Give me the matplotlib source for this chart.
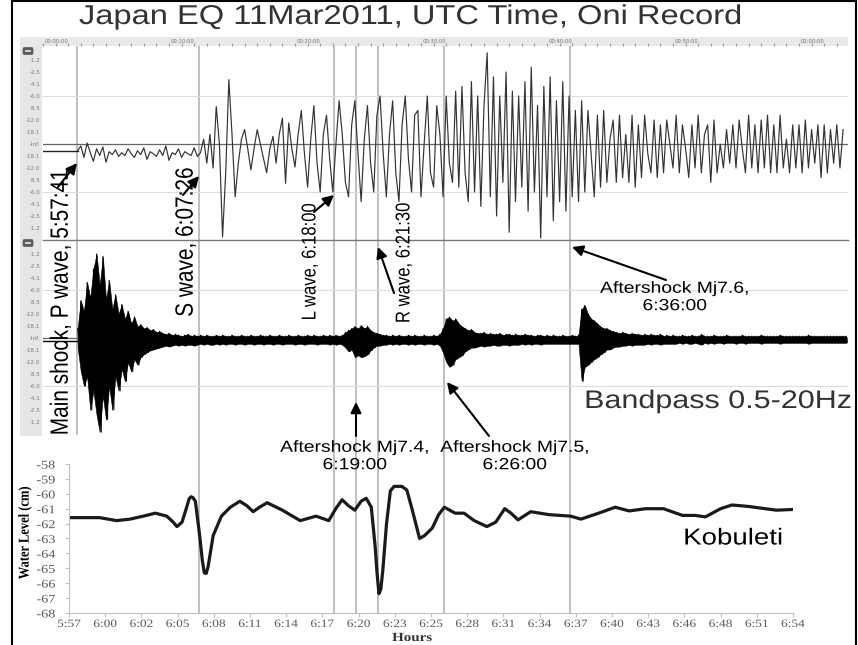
import numpy as np
import matplotlib.pyplot as plt
from matplotlib import patheffects
from matplotlib.patches import FancyBboxPatch, Rectangle
from matplotlib.transforms import Affine2D

# ---- Oni seismogram, record time in minutes after 00:00:00 ----
rec_first = 2.75      # first sample = P arrival
rec_step = 0.25
raw_pre = -0.07       # flat trace before the P wave
raw = [
    -0.07, -0.02, -0.14, 0.01, -0.09, -0.18, -0.05, -0.12, -0.03, -0.19,
    -0.08, -0.11, -0.06, -0.13, -0.09, -0.12, -0.05, -0.10, -0.14, -0.07,
    -0.11, -0.04, -0.16, -0.08, -0.10, -0.13, -0.06, -0.12, -0.02, -0.17,
    -0.09, -0.11, -0.05, -0.14, -0.08, -0.10, -0.12, -0.04, -0.13, -0.09,
    0.05, -0.20, 0.10, -0.25, 0.39, 0.00, -0.97, -0.30, 0.67, 0.10,
    -0.55, -0.20, 0.05, 0.15, -0.05, -0.27, -0.05, 0.15, 0.00, -0.15,
    -0.30, -0.05, 0.08, -0.20, 0.10, 0.27, -0.41, 0.22, -0.05, -0.24,
    0.10, 0.35, -0.10, -0.45, 0.05, 0.40, -0.20, -0.50, 0.10, 0.30,
    -0.15, -0.50, 0.00, 0.45, 0.10, -0.40, -0.55, 0.20, 0.45, -0.10,
    -0.60, 0.05, 0.40, -0.20, -0.50, 0.30, 0.50, -0.10, -0.55, 0.10,
    0.45, -0.30, -0.60, 0.20, 0.50, -0.15, -0.50, 0.30, 0.35, -0.55,
    0.00, 0.50, -0.30, -0.45, 0.40, 0.10, -0.55, 0.50, -0.20, -0.40,
    0.55, -0.45, 0.60, -0.30, -0.60, 0.65, -0.50, 0.50, -0.65, 0.40,
    0.95, -0.55, 0.70, -0.75, 0.50, -0.40, 0.75, -0.92, 0.55, -0.60,
    0.50, -0.45, 0.65, -0.70, 0.80, -0.50, 0.40, -0.98, 0.60, -0.55,
    0.70, -0.80, 0.45, -0.60, 0.65, -0.70, 0.50, -0.55, 0.35, -0.60,
    0.45, -0.50, 0.35, -0.10, -0.55, 0.30, -0.45, 0.35, -0.40, 0.05,
    0.25, -0.40, 0.30, -0.35, 0.10, -0.40, 0.30, -0.45, 0.20, -0.35,
    0.30, -0.10, -0.30, 0.25, -0.35, 0.20, -0.30, 0.25, 0.00, -0.25,
    0.30, -0.30, 0.20, -0.05, -0.35, 0.20, -0.25, 0.30, -0.30, 0.10,
    0.20, -0.40, 0.25, -0.30, 0.00, -0.25, 0.15, -0.20, 0.20, -0.25,
    0.25, -0.05, -0.30, 0.30, -0.25, 0.20, -0.30, 0.25, -0.25, 0.30,
    -0.30, 0.20, -0.30, 0.30, -0.25, 0.05, -0.30, 0.20, -0.25, 0.20,
    -0.30, 0.25, -0.25, 0.15, -0.20, 0.20, -0.35, 0.20, -0.30, 0.15,
    -0.20, 0.20, -0.25, 0.15,
]
bp_pre = -0.03
bp_hi = [
    0.10, 0.39, 0.28, 0.58, 0.42, 0.72, 0.875, 0.55, 0.85, 0.40,
    0.60, 0.30, 0.45, 0.25, 0.35, 0.20, 0.28, 0.15, 0.22, 0.12,
    0.14, 0.10, 0.11, 0.08, 0.09, 0.06, 0.07, 0.05, 0.04, 0.05,
    0.03, 0.04, 0.03, 0.02, 0.03, 0.04, 0.02, 0.03, 0.02, 0.03,
    0.02, 0.03, 0.02, 0.02, 0.03, 0.02, 0.03, 0.02, 0.02, 0.03,
    0.02, 0.02, 0.03, 0.02, 0.02, 0.03, 0.02, 0.02, 0.03, 0.02,
    0.02, 0.03, 0.02, 0.02, 0.03, 0.02, 0.02, 0.03, 0.02, 0.02,
    0.03, 0.02, 0.02, 0.03, 0.02, 0.03, 0.02, 0.02, 0.03, 0.02,
    0.03, 0.02, 0.03, 0.02, 0.03, 0.06, 0.08, 0.10, 0.12, 0.10,
    0.13, 0.10, 0.12, 0.08, 0.06, 0.05, 0.04, 0.03, 0.03, 0.02,
    0.03, 0.02, 0.03, 0.02, 0.02, 0.03, 0.02, 0.03, 0.02, 0.02,
    0.03, 0.02, 0.02, 0.03, 0.02, 0.04, 0.10, 0.20, 0.22, 0.18,
    0.20, 0.15, 0.12, 0.10, 0.08, 0.09, 0.06, 0.05, 0.05, 0.06,
    0.04, 0.05, 0.04, 0.04, 0.05, 0.03, 0.04, 0.04, 0.03, 0.04,
    0.03, 0.03, 0.04, 0.03, 0.03, 0.02, 0.03, 0.03, 0.02, 0.03,
    0.02, 0.03, 0.02, 0.02, 0.03, 0.02, 0.02, 0.03, 0.02, 0.03,
    0.30, 0.34, 0.25, 0.20, 0.18, 0.15, 0.12, 0.10, 0.10, 0.08,
    0.07, 0.06, 0.05, 0.06, 0.05, 0.04, 0.05, 0.04, 0.04, 0.03,
    0.04, 0.03, 0.04, 0.03, 0.03, 0.04, 0.02, 0.03, 0.02, 0.03,
    0.02, 0.02, 0.03, 0.02, 0.02, 0.03, 0.02, 0.02, 0.04, 0.02,
    0.02, 0.02, 0.03, 0.02, 0.02, 0.02, 0.03, 0.02, 0.02, 0.02,
    0.02, 0.03, 0.02, 0.02, 0.02, 0.02, 0.02, 0.03, 0.02, 0.02,
    0.02, 0.02, 0.02, 0.03, 0.02, 0.02, 0.02, 0.02, 0.02, 0.02,
    0.02, 0.02, 0.03, 0.02, 0.02, 0.02, 0.02, 0.02, 0.02, 0.02,
    0.02, 0.02, 0.02, 0.02, 0.02,
]
bp_lo = [
    -0.10, -0.35, -0.50, -0.40, -0.75, -0.55, -0.80, -0.98, -0.60, -0.85,
    -0.50, -0.75, -0.40, -0.55, -0.32, -0.45, -0.25, -0.35, -0.22, -0.28,
    -0.20, -0.17, -0.15, -0.13, -0.12, -0.11, -0.10, -0.09, -0.08, -0.09,
    -0.08, -0.07, -0.08, -0.07, -0.08, -0.07, -0.07, -0.08, -0.07, -0.06,
    -0.07, -0.06, -0.07, -0.07, -0.06, -0.07, -0.06, -0.07, -0.06, -0.06,
    -0.07, -0.06, -0.06, -0.07, -0.06, -0.06, -0.07, -0.06, -0.06, -0.07,
    -0.06, -0.06, -0.07, -0.06, -0.06, -0.07, -0.06, -0.06, -0.06, -0.07,
    -0.06, -0.06, -0.07, -0.06, -0.06, -0.06, -0.07, -0.06, -0.06, -0.06,
    -0.07, -0.06, -0.07, -0.06, -0.07, -0.10, -0.14, -0.12, -0.20, -0.18,
    -0.20, -0.19, -0.17, -0.13, -0.10, -0.08, -0.08, -0.07, -0.07, -0.06,
    -0.07, -0.06, -0.07, -0.06, -0.06, -0.07, -0.06, -0.07, -0.06, -0.06,
    -0.07, -0.06, -0.06, -0.07, -0.06, -0.08, -0.15, -0.25, -0.30, -0.28,
    -0.22, -0.20, -0.18, -0.14, -0.12, -0.10, -0.10, -0.09, -0.08, -0.09,
    -0.08, -0.08, -0.07, -0.08, -0.08, -0.07, -0.07, -0.08, -0.07, -0.07,
    -0.07, -0.06, -0.07, -0.06, -0.07, -0.06, -0.06, -0.07, -0.06, -0.06,
    -0.06, -0.06, -0.06, -0.06, -0.06, -0.06, -0.06, -0.06, -0.06, -0.06,
    -0.45, -0.30, -0.28, -0.25, -0.22, -0.20, -0.17, -0.15, -0.12, -0.12,
    -0.10, -0.09, -0.09, -0.08, -0.08, -0.07, -0.08, -0.07, -0.07, -0.07,
    -0.07, -0.06, -0.07, -0.06, -0.06, -0.07, -0.06, -0.06, -0.06, -0.06,
    -0.06, -0.05, -0.06, -0.05, -0.06, -0.06, -0.05, -0.06, -0.07, -0.05,
    -0.06, -0.05, -0.06, -0.05, -0.05, -0.06, -0.05, -0.05, -0.05, -0.06,
    -0.05, -0.05, -0.06, -0.05, -0.05, -0.05, -0.05, -0.06, -0.05, -0.05,
    -0.05, -0.05, -0.05, -0.06, -0.05, -0.05, -0.05, -0.05, -0.05, -0.05,
    -0.05, -0.05, -0.06, -0.05, -0.05, -0.05, -0.05, -0.05, -0.05, -0.05,
    -0.05, -0.05, -0.05, -0.05, -0.05,
]
db_labels = ['-1.2', '-2.5', '-4.1', '-6.0', '-8.5', '-12.0', '-18.1', '-Inf.',
             '-18.1', '-12.0', '-8.5', '-6.0', '-4.1', '-2.5', '-1.2']
rec_labels = ['00:00:00', '00:10:00', '00:20:00', '00:30:00',
              '00:40:00', '00:50:00', '01:00:00']

# ---- Kobuleti water level, minutes after 5:57 ----
wl_min = [0, 2.4, 3.75, 4.8, 5.85, 6.8, 7.7, 8.2, 8.5, 8.9, 9.3, 9.45, 9.6,
          9.75, 9.95, 10.3, 10.5, 10.65, 10.8, 10.95, 11.35, 12.0, 12.7, 13.45,
          14.0, 14.5, 15.0, 15.6, 16.8, 18.2, 19.45, 20.45, 21.0, 21.5, 22.0,
          22.5, 23.0, 23.4, 23.8, 24.1, 24.25, 24.4, 24.55, 24.7, 25.0, 25.3,
          25.6, 26.2, 26.6, 27.0, 27.6, 28.0, 28.6, 29.1, 29.55, 30.4, 31.1,
          31.9, 32.9, 33.6, 34.3, 34.8, 35.35, 36.35, 37.8, 39.5, 40.3, 41.7,
          43.0, 44.1, 45.4, 46.8, 48.3, 49.3, 50.1, 51.3, 52.2, 53.5, 55.7, 57.0]
wl_cm = [-61.6, -61.6, -61.8, -61.7, -61.5, -61.3, -61.5, -61.9, -62.2, -61.9,
         -60.8, -60.35, -60.2, -60.25, -60.5, -62.9, -64.5, -65.3, -65.35, -64.9,
         -62.8, -61.5, -60.9, -60.5, -60.8, -61.2, -60.9, -60.6, -61.1, -61.8,
         -61.5, -61.8, -61.0, -60.4, -60.8, -61.1, -60.5, -60.3, -60.9, -63.5,
         -65.3, -66.7, -66.4, -65.2, -62.0, -59.8, -59.5, -59.5, -59.75, -61.0,
         -63.0, -62.8, -62.3, -61.4, -60.9, -61.3, -61.3, -61.8, -62.2, -61.9,
         -61.0, -61.3, -61.75, -61.2, -61.4, -61.5, -61.7, -61.3, -60.9, -61.15,
         -61.0, -61.0, -61.45, -61.45, -61.55, -61.0, -60.75, -60.85, -61.1, -61.05]
hour_labels = ['5:57', '6:00', '6:02', '6:05', '6:08', '6:11', '6:14', '6:17',
               '6:20', '6:23', '6:25', '6:28', '6:31', '6:34', '6:37', '6:40',
               '6:43', '6:46', '6:48', '6:51', '6:54']
# event lines as drawn in the picture, minutes after 5:57
event_min = [0.63, 10.24, 20.87, 22.6, 24.33, 29.53, 39.45]

W, H = 858, 645
SANS = 'Liberation Sans'
SERIF = 'Liberation Serif'


class Stretch(patheffects.AbstractPathEffect):
    # the source picture is stretched sideways, so widen the glyphs too
    def __init__(self, sx=1.2):
        super().__init__()
        self.sx = sx

    def draw_path(self, renderer, gc, tpath, affine, rgbFace=None):
        ext = tpath.transformed(affine).get_extents()
        cx = (ext.x0 + ext.x1) / 2
        aff = affine + Affine2D().translate(-cx, 0).scale(self.sx, 1).translate(cx, 0)
        renderer.draw_path(gc, tpath, aff, rgbFace)


def rect(x0, y0, x1, y1):
    return [x0 / W, 1 - y1 / H, (x1 - x0) / W, (y1 - y0) / H]


fig = plt.figure(figsize=(W / 100, H / 100), dpi=100)

# background layer: label strip and the small buttons of the recorder software
bg = fig.add_axes([0, 0, 1, 1])
bg.set_xlim(0, W)
bg.set_ylim(H, 0)
bg.axis('off')
bg.add_patch(Rectangle((20, 46), 22, 390, color='#e6e6e6', lw=0))
for yb in (51, 243):
    bg.add_patch(FancyBboxPatch((23, yb - 3.5), 10, 7,
                                boxstyle='round,pad=0,rounding_size=1.5',
                                fc='#5a5a5a', ec='#5a5a5a', lw=0.5))
    bg.add_patch(Rectangle((25, yb - 1), 6, 2, color='#d0d0d0', lw=0))

# event lines through all three panels
vl = fig.add_axes(rect(69, 38, 793, 613))
vl.set_xlim(0, 57)
vl.set_ylim(0, 1)
vl.axis('off')
for i, m in enumerate(event_min):
    vl.axvline(m, ymin=0.311 if i == 0 else 0, color='#b4b4b4', lw=1.2)

rec_end = (848 - 43) / 12.6

# time header of the recorder
hd = fig.add_axes(rect(20, 37, 848, 46), facecolor='#e8e8e8')
hd.set_xlim((20 - 43) / 12.6, rec_end)
hd.set_ylim(0, 1)
hd.set_xticks(np.arange(0, 64))
hd.set_yticks([])
hd.tick_params(axis='x', direction='in', length=2, color='#999', labelbottom=False)
for s in hd.spines.values():
    s.set_visible(False)
for i, lab in enumerate(rec_labels):
    hd.text(i * 10 + 0.15, 0.5, lab, fontsize=3.8, color='#777', va='center')

p1 = fig.add_axes(rect(43, 48, 848, 240), facecolor='none')
p2 = fig.add_axes(rect(43, 242, 848, 434), facecolor='none')
for ax in (p1, p2):
    ax.set_xlim(0, rec_end)
    ax.set_ylim(-1, 1)
    ax.set_xticks([])
    ax.set_yticks(np.arange(-7, 8) * 0.125, db_labels)
    ax.tick_params(axis='y', length=0, pad=2, labelsize=4, labelcolor='#777')
    for s in ax.spines.values():
        s.set_visible(False)
    for g in (-0.5, 0.5):
        ax.axhline(g, color='#dcdcdc', lw=0.8, zorder=0.5)
    ax.axhline(0, color='#666', lw=0.9, zorder=0.5)

t_raw = rec_first + rec_step * np.arange(len(raw))
p1.plot([0, rec_first], [raw_pre, raw_pre], color='#222', lw=1)
p1.plot(t_raw, raw, color='#333', lw=0.85)
p1.axhline(-1, color='#777', lw=1, clip_on=False)

# band-pass trace: solid envelope plus the swing of each sample
t_bp = rec_first + rec_step * np.arange(len(bp_hi))
zz_t = np.column_stack([t_bp, t_bp + rec_step / 2]).ravel()
zz_v = np.column_stack([bp_hi, bp_lo]).ravel()
p2.plot([0, rec_first], [bp_pre, bp_pre], color='k', lw=1)
p2.fill_between(t_bp, bp_lo, bp_hi, color='k', lw=0.4)
p2.plot(zz_t, zz_v, color='k', lw=0.7)

# Kobuleti water level (Excel chart)
p3 = fig.add_axes(rect(69, 464, 793, 613), facecolor='none')
p3.plot(wl_min, wl_cm, color='#1a1a1a', lw=2.3, solid_joinstyle='round')
p3.set_xlim(0, 57)
p3.set_ylim(-68, -58)
p3.set_xticks(np.linspace(0, 57, len(hour_labels)), hour_labels)
p3.set_yticks(np.arange(-68, -57), [str(v) for v in range(-68, -57)])
p3.tick_params(axis='x', length=3, width=0.8, color='#bfbfbf', labelcolor='#595959',
               labelsize=8, pad=2)
p3.tick_params(axis='y', length=3, width=0.8, color='#bfbfbf', labelcolor='#595959',
               labelsize=8.5, pad=8)
for lbl in p3.get_xticklabels() + p3.get_yticklabels():
    lbl.set_family(SERIF)
    lbl.set_path_effects([Stretch()])
for s in ('top', 'right'):
    p3.spines[s].set_visible(False)
for s in ('left', 'bottom'):
    p3.spines[s].set_color('#bfbfbf')

# annotation layer in picture pixels
ann = fig.add_axes([0, 0, 1, 1])
ann.set_xlim(0, W)
ann.set_ylim(H, 0)
ann.axis('off')


def label(x, y, s, size, family=SANS, **kw):
    kw.setdefault('ha', 'center')
    kw.setdefault('va', 'center')
    t = ann.text(x, y, s, fontsize=size, family=family, **kw)
    t.set_path_effects([Stretch()])
    return t


label(411, 17, 'Japan EQ 11Mar2011, UTC Time, Oni Record', 19.6, color='#333')
label(61, 302, 'Main shock, P wave, 5:57:41', 15, rotation=90)
label(186, 242, 'S wave, 6:07:26', 15, rotation=90)
label(310, 262, 'L wave, 6:18:00', 12, rotation=90)
label(404, 263, 'R wave, 6:21:30', 12, rotation=90)
label(675, 297, 'Aftershock Mj7.6,\n6:36:00', 11.6)
label(355, 456, 'Aftershock Mj7.4,\n6:19:00', 11.6)
label(515, 456, 'Aftershock Mj7.5,\n6:26:00', 11.6)
label(718, 401, 'Bandpass 0.5-20Hz', 18.3, color='#333')
label(733, 538, 'Kobuleti', 16.6)
label(412, 638, 'Hours', 9, family=SERIF, weight='bold', color='#333')
label(25, 533, 'Water Level (cm)', 9, family=SERIF, weight='bold', rotation=90)

arrows = [((58, 187), (77, 163)), ((183, 195), (199, 176)), ((314, 212), (334, 195)),
          ((394, 293), (378, 247)), ((666, 280), (572, 247)), ((356, 436), (356, 402)),
          ((489, 436), (447, 382))]
for tail, head in arrows:
    ann.annotate('', xy=head, xytext=tail,
                 arrowprops=dict(arrowstyle='-|>', color='k', lw=1.5,
                                 mutation_scale=16, shrinkA=0, shrinkB=0))

# picture frame
ann.plot([12, 12], [0, H], color='k', lw=1.5)
ann.plot([856, 856], [0, H], color='k', lw=1.5)
ann.plot([12, 856], [1, 1], color='k', lw=1.5)

fig.savefig('out.png', dpi=100)
